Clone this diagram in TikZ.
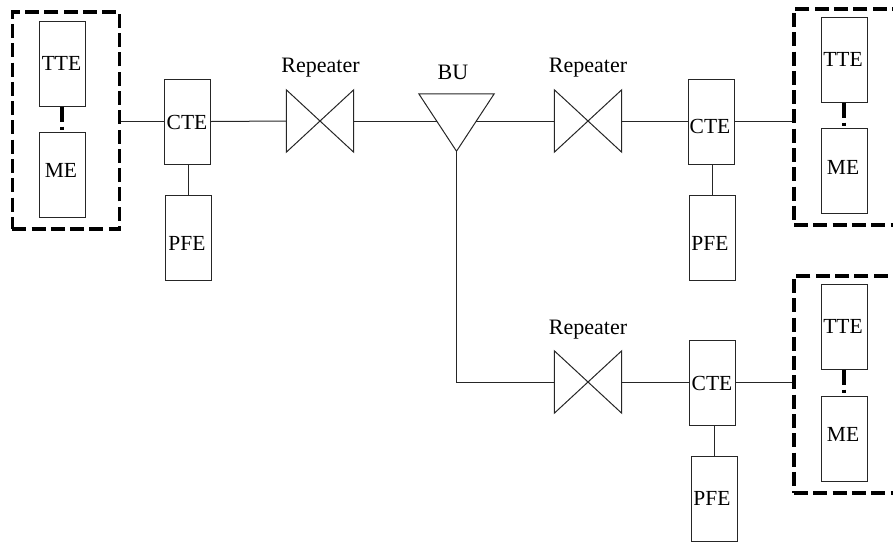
\documentclass[tikz,border=0pt]{standalone}
\usepackage{fontspec}
\setmainfont{Liberation Serif}
\newcommand{\shifted}[3]{\kern#1pt\raisebox{#2pt}{\smash{\makebox[0pt][c]{#3}}}\kern-#1pt}
\tikzset{
  unitbox/.style={draw=black!85,line width=1pt,rectangle,inner sep=0pt,minimum width=46pt,minimum height=85pt,text height=0pt,text depth=0pt,font=\fontsize{21.5}{23}\selectfont},
  groupbox/.style={draw=black,line width=3.1pt,rectangle,inner sep=0pt,dash pattern=on 14pt off 5.3pt},
  holder/.style={rectangle,inner sep=0pt,minimum width=67pt,minimum height=62pt},
  wire/.style={draw=black!85,line width=1pt},
  glyph/.style={draw=black!85,line width=1pt,line join=miter},
  joint/.style={draw=black,line width=3.1pt,dash pattern=on 15pt off 5pt on 3pt off 10pt},
  caption/.style={inner sep=0pt,anchor=base,font=\fontsize{22}{24}\selectfont}
}
\begin{document}
\begin{tikzpicture}[x=1pt,y=-1pt]
\useasboundingbox (0,0) rectangle (893,542);
% groups
\node[groupbox,minimum width=107.5pt,minimum height=217pt] (g1) at (66,120.5) {};
\node[groupbox,minimum width=112pt,minimum height=216pt] (g2) at (850,117) {};
\node[groupbox,minimum width=112pt,minimum height=217pt] (g3) at (850,384.5) {};
% boxes
\node[unitbox] (tte1) at (62,63.5) {\shifted{-0.5}{-6.5}{TTE}};
\node[unitbox] (me1) at (62,174.5) {\shifted{-1}{-2.5}{ME}};
\node[unitbox] (cte1) at (187,121.5) {\shifted{0}{-7.5}{CTE}};
\node[unitbox] (pfe1) at (188,237.5) {\shifted{-1}{-13}{PFE}};
\node[unitbox] (tte2) at (844,59.5) {\shifted{-1}{-7}{TTE}};
\node[unitbox] (me2) at (844,171) {\shifted{-1}{-3}{ME}};
\node[unitbox] (cte2) at (711,121.5) {\shifted{-1}{-12}{CTE}};
\node[unitbox] (pfe2) at (712.5,237.5) {\shifted{-2.5}{-13}{PFE}};
\node[unitbox] (tte3) at (844,326.5) {\shifted{-1}{-7}{TTE}};
\node[unitbox] (me3) at (844,438.5) {\shifted{-1}{-3}{ME}};
\node[unitbox] (cte3) at (712,382.5) {\shifted{0}{-8}{CTE}};
\node[unitbox] (pfe3) at (714,499) {\shifted{-2}{-6.5}{PFE}};
% repeaters and BU
\node[holder] (r1) at (320,121) {};
\node[holder] (r2) at (588,121) {};
\node[holder] (r3) at (588,382) {};
\node[rectangle,inner sep=0pt,minimum width=75pt,minimum height=57pt] (bu) at (456.5,122.5) {};
\foreach \r in {r1,r2,r3}
  \draw[glyph] (\r.north west) -- (\r.south east) -- (\r.north east) -- (\r.south west) -- cycle;
\draw[glyph] (bu.north west) -- (bu.north east) -- (bu.south) -- cycle;
\coordinate (buleft) at (437,121);
\coordinate (buright) at (476,121);
% labels
\node[caption] (lr1) at (320.5,72) {Repeater};
\node[caption] (lr2) at (588,72) {Repeater};
\node[caption] (lr3) at (588,334) {Repeater};
\node[caption] (lbu) at (453,79) {BU};
% connectors
\draw[wire] (g1.east |- cte1.west) -- (cte1.west);
\draw[wire] (cte1.east) -- (r1.west);
\draw[wire] (r1.east) -- (buleft);
\draw[wire] (buright) -- (r2.west);
\draw[wire] (r2.east) -- (r2.east -| cte2.west);
\draw[wire] (cte2.east) -- (cte2.east -| g2.west);
\draw[wire] (bu.south) |- (r3.west);
\draw[wire] (r3.east) -- (r3.east -| cte3.west);
\draw[wire] (cte3.east) -- (cte3.east -| g3.west);
\draw[wire] (pfe1.north |- cte1.south) -- (pfe1.north);
\draw[wire] (pfe2.north |- cte2.south) -- (pfe2.north);
\draw[wire] (pfe3.north |- cte3.south) -- (pfe3.north);
\draw[joint] (tte1.south) -- (me1.north);
\draw[joint] (tte2.south) -- (me2.north);
\draw[joint] (tte3.south) -- (me3.north);
\end{tikzpicture}
\end{document}
